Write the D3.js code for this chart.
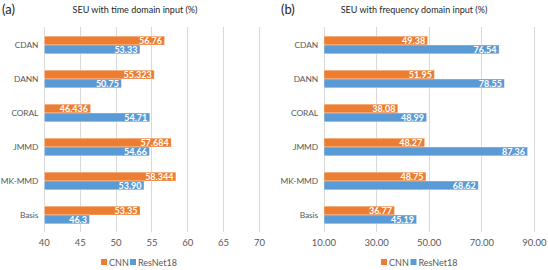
<!DOCTYPE html>
<html><head><meta charset="utf-8">
<script src="https://cdn.jsdelivr.net/npm/d3@7"></script>
<style>body{margin:0;background:#fff}svg{display:block}text{font-family:Lato,"Open Sans",sans-serif}</style>
</head><body><svg id="c" width="548" height="270"></svg>
<script>
const categories = ["CDAN","DANN","CORAL","JMMD","MK-MMD","Basis"];
const seriesNames = ["CNN","ResNet18"];
const timeCNN = [56.76,55.323,46.436,57.684,58.344,53.35];
const timeRes = [53.33,50.75,54.71,54.66,53.90,46.3];
const timeCNNLabels = ["56.76","55.323","46.436","57.684","58.344","53.35"];
const timeResLabels = ["53.33","50.75","54.71","54.66","53.90","46.3"];
const freqCNN = [49.38,51.95,38.08,48.27,48.75,36.77];
const freqRes = [76.54,78.55,48.99,87.36,68.62,45.19];
const freqCNNLabels = ["49.38","51.95","38.08","48.27","48.75","36.77"];
const freqResLabels = ["76.54","78.55","48.99","87.36","68.62","45.19"];
const timeTicks = [40,45,50,55,60,65,70];
const freqTicks = [10,30,50,70,90];
const colors = ["#ED7D31","#5B9BD5"];

const svg = d3.select("#c");

function panel(o){
  const g = svg.append("g");
  const x = d3.scaleLinear().domain(o.domain).range([o.x0,o.x1]);
  const y = d3.scaleBand().domain(categories).range([28,232]).paddingInner(0.48).paddingOuter(0.24);
  const ys = d3.scaleBand().domain(seriesNames).range([0,y.bandwidth()]);
  g.selectAll(".grid").data(o.ticks).join("line")
    .attr("x1",d=>x(d)).attr("x2",d=>x(d)).attr("y1",27).attr("y2",232)
    .attr("stroke","#d9d9d9").attr("stroke-width",1).attr("shape-rendering","crispEdges");
  g.selectAll(".tl").data(o.ticks).join("text")
    .attr("x",d=>x(d)).attr("y",246).attr("text-anchor","middle")
    .attr("font-size",9.5).attr("fill","#595959").text(o.fmt);
  g.selectAll(".cl").data(categories).join("text")
    .attr("x",o.x0-6).attr("y",d=>y(d)+y.bandwidth()/2+3.2).attr("text-anchor","end")
    .attr("font-size",8.4).attr("letter-spacing",-0.1).attr("fill","#595959").text(d=>d);
  const series = [{name:"CNN",vals:o.cnn,labels:o.cnnL},{name:"ResNet18",vals:o.res,labels:o.resL}];
  series.forEach((s,si)=>{
    const bars = g.append("g");
    bars.selectAll("rect").data(categories).join("rect")
      .attr("x",x(o.domain[0])).attr("y",(d)=>y(d)+ys(s.name))
      .attr("width",(d,i)=>x(s.vals[i])-x(o.domain[0])).attr("height",ys.bandwidth())
      .attr("fill",colors[si]).attr("stroke","#fff").attr("stroke-opacity",0.6).attr("stroke-width",0.6);
    bars.selectAll("text").data(categories).join("text")
      .attr("x",(d,i)=>x(s.vals[i])-2.5).attr("y",d=>y(d)+ys(s.name)+ys.bandwidth()/2+3.2)
      .attr("text-anchor","end").attr("font-size",9).attr("font-weight","bold").attr("fill","#fff")
      .text((d,i)=>s.labels[i]);
  });
  svg.append("text").attr("x",o.tx).attr("y",13).attr("text-anchor","middle")
    .attr("font-size",9).attr("fill","#262626").text(o.title);
  svg.append("text").attr("x",o.lx).attr("y",14).attr("font-size",13).attr("fill","#262626").text(o.letter);
  const lg = svg.append("g");
  seriesNames.forEach((n,i)=>{
    const lx = o.legX[i];
    lg.append("rect").attr("x",lx).attr("y",259).attr("width",6).attr("height",6).attr("fill",colors[i]);
    lg.append("text").attr("x",lx+8).attr("y",265.5).attr("font-size",9).attr("fill","#595959").text(n);
  });
}

panel({domain:[40,70],x0:44.3,x1:259.5,ticks:timeTicks,fmt:d=>d,cnn:timeCNN,res:timeRes,cnnL:timeCNNLabels,resL:timeResLabels,
  title:"SEU with time domain input (%)",tx:135,lx:2,letter:"(a)",legX:[101,130]});
panel({domain:[10,90],x0:324,x1:534.5,ticks:freqTicks,fmt:d=>d3.format(".2f")(d),cnn:freqCNN,res:freqRes,cnnL:freqCNNLabels,resL:freqResLabels,
  title:"SEU with frequency domain input (%)",tx:414,lx:281,letter:"(b)",legX:[381,410.5]});
</script></body></html>
